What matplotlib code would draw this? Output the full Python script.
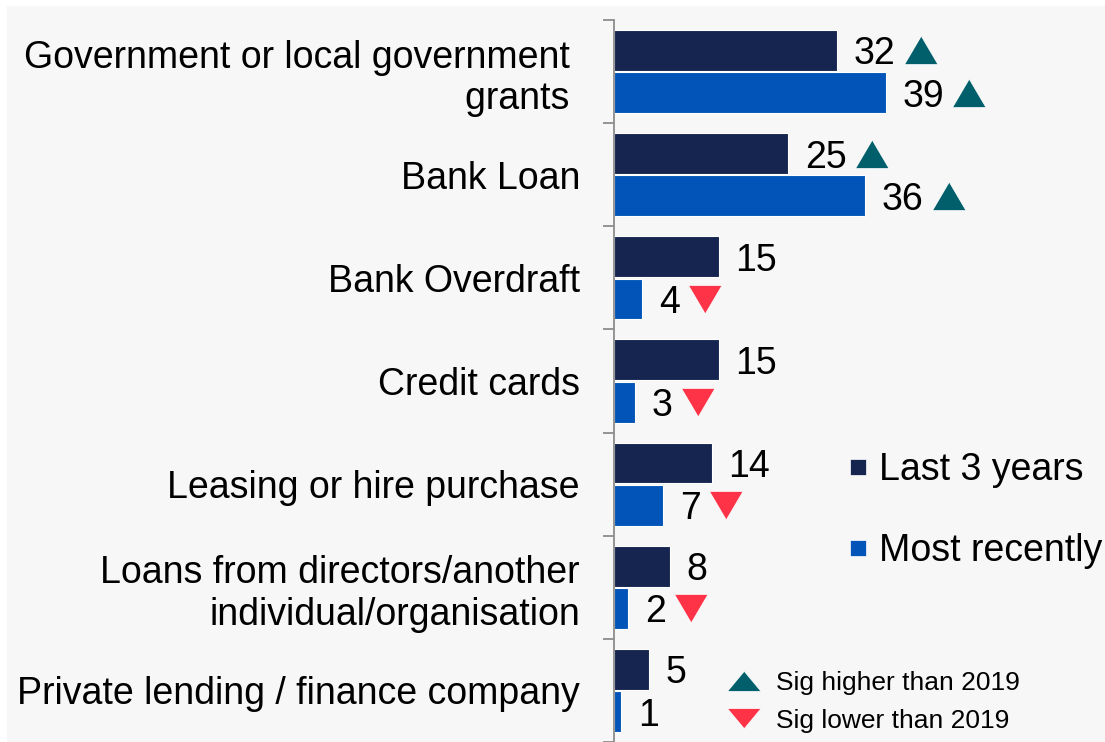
import matplotlib
matplotlib.use("Agg")
import matplotlib.pyplot as plt
from matplotlib.lines import Line2D
from matplotlib.patches import Rectangle
from matplotlib.transforms import ScaledTranslation
import numpy as np

# ---------------- data ----------------
categories = [
    "Government or local government \ngrants ",
    "Bank Loan",
    "Bank Overdraft",
    "Credit cards",
    "Leasing or hire purchase",
    "Loans from directors/another\nindividual/organisation",
    "Private lending / finance company",
]
last_3_years = [32, 25, 15, 15, 14, 8, 5]
most_recently = [39, 36, 4, 3, 7, 2, 1]
# +1 = significantly higher than 2019, -1 = significantly lower, 0 = no change
sig_last_3_years = [1, 1, 0, 0, 0, 0, 0]
sig_most_recently = [1, 1, -1, -1, -1, -1, 0]
series_labels = ["Last 3 years", "Most recently"]
sig_labels = ["Sig higher than 2019", "Sig lower than 2019"]

# ---------------- style ----------------
NAVY = "#15254f"
BLUE = "#0254b8"
TEAL = "#005f6b"
RED = "#ff3347"
GREY_BG = "#f7f7f7"
AXIS_GREY = "#8c8c8c"
FS = 27
FS_SMALL = 19

plt.rcParams["font.family"] = ["Liberation Sans", "DejaVu Sans"]

W, H = 1105, 742
fig = plt.figure(figsize=(W / 100, H / 100), dpi=100, facecolor="white")
fig.patches.append(Rectangle((7 / W, 0), 1 - 7 / W, 1 - 6 / H,
                             transform=fig.transFigure, facecolor=GREY_BG,
                             edgecolor="none", zorder=-10))

ax = fig.add_axes([614 / W, 0, 1 - 614 / W, 1 - 20 / H])
ax.set_facecolor("none")

n = len(categories)
y = np.arange(n)
bh = 0.395
off = 0.205
ax.barh(y - off, last_3_years, height=bh, color=NAVY, edgecolor="white", linewidth=0.8)
ax.barh(y + off, most_recently, height=bh, color=BLUE, edgecolor="white", linewidth=0.8)

ax.set_xlim(0, (W - 614) / 6.97)
ax.set_ylim(n - 0.5, -0.5)

for s in ["top", "right", "bottom"]:
    ax.spines[s].set_visible(False)
ax.spines["left"].set_color(AXIS_GREY)
ax.spines["left"].set_linewidth(1.3)

ax.set_xticks([])
ax.set_yticks(y)
ax.set_yticklabels(categories, fontsize=FS)
ax.tick_params(axis="y", which="major", length=0, pad=24.5)
ax.set_yticks(np.arange(-0.5, n, 1), minor=True)
ax.tick_params(axis="y", which="minor", length=8, width=1.3, color=AXIS_GREY)

# value labels
anns = []
for vals, sigs, dy in [(last_3_years, sig_last_3_years, -off),
                       (most_recently, sig_most_recently, off)]:
    for i, (v, s) in enumerate(zip(vals, sigs)):
        a = ax.annotate(str(v), xy=(v, i + dy), xytext=(17 * 0.72, 0),
                        textcoords="offset points", ha="left",
                        va="center_baseline",
                        fontsize=FS, color="black", annotation_clip=False)
        anns.append((a, v, i + dy, s))

up_marker = [(-1, -0.85), (1, -0.85), (0, 0.85)]
down_marker = [(-1, 0.85), (1, 0.85), (0, -0.85)]

fig.canvas.draw()
renderer = fig.canvas.get_renderer()
for a, v, yy, s in anns:
    if s == 0:
        continue
    bb = a.get_window_extent(renderer)
    bar_end_px = ax.transData.transform((v, yy))[0]
    shift = (bb.x1 + 25 - bar_end_px) / fig.dpi
    tr = ax.transData + ScaledTranslation(shift, 0, fig.dpi_scale_trans)
    ax.plot([v], [yy], linestyle="none",
            marker=up_marker if s > 0 else down_marker,
            markersize=33 * 0.72, color=TEAL if s > 0 else RED,
            markeredgecolor="white", markeredgewidth=0.5,
            transform=tr, clip_on=False)

# series legend
h1 = [Line2D([], [], ls="none", marker="s", markersize=16 * 0.72, color=c,
             markeredgecolor="white", markeredgewidth=0.5) for c in (NAVY, BLUE)]
leg1 = ax.legend(h1, series_labels, loc="upper left",
                 bbox_to_anchor=(849 / W, (H - 452) / H),
                 bbox_transform=fig.transFigure, frameon=False, fontsize=FS,
                 handlelength=0.5, handletextpad=0.3, borderpad=0,
                 borderaxespad=0, labelspacing=1.2)
ax.add_artist(leg1)

flat_up = [(-1, -0.6), (1, -0.6), (0, 0.6)]
flat_down = [(-1, 0.6), (1, 0.6), (0, -0.6)]
h2 = [Line2D([], [], ls="none", marker=flat_up, markersize=33 * 0.72, color=TEAL,
             markeredgecolor="white", markeredgewidth=0.5),
      Line2D([], [], ls="none", marker=flat_down, markersize=33 * 0.72, color=RED,
             markeredgecolor="white", markeredgewidth=0.5)]
leg2 = ax.legend(h2, sig_labels, loc="upper left",
                 bbox_to_anchor=(727 / W, (H - 671) / H),
                 bbox_transform=fig.transFigure, frameon=False, fontsize=FS_SMALL,
                 handlelength=1.3, handletextpad=0.57, borderpad=0,
                 borderaxespad=0, labelspacing=0.52)

fig.savefig("out.png", dpi=100, facecolor=fig.get_facecolor())
